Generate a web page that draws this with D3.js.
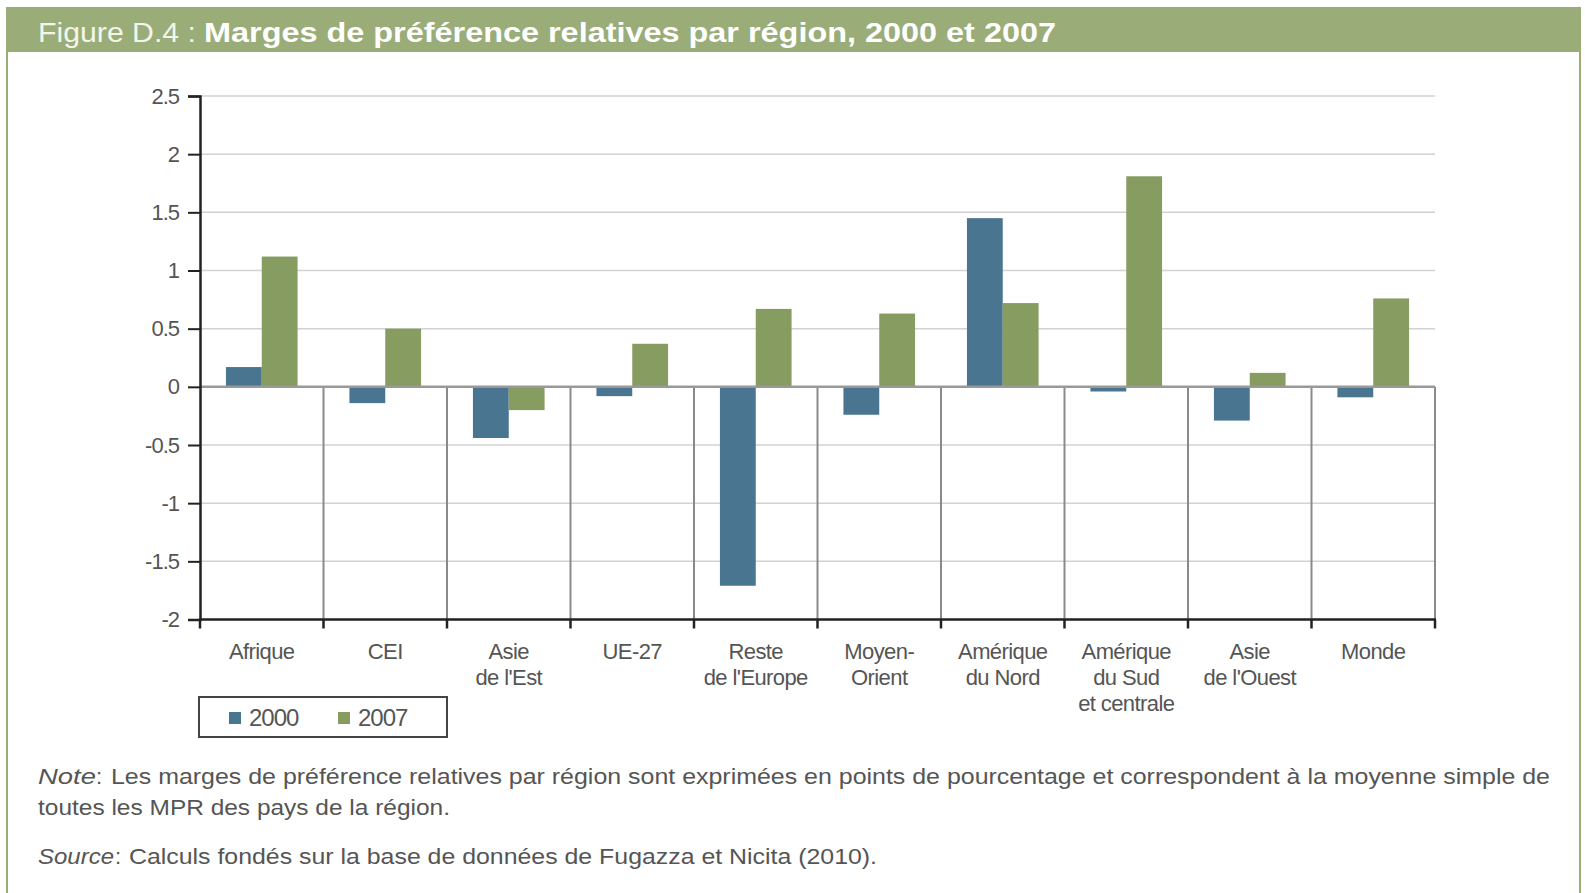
<!DOCTYPE html>
<html>
<head>
<meta charset="utf-8">
<script src="https://cdn.jsdelivr.net/npm/d3@7"></script>
<style>
  html, body { margin: 0; padding: 0; background: #ffffff; }
  svg { display: block; }
  text { font-family: "Liberation Sans", Arial, sans-serif; }
</style>
</head>
<body>
<svg id="chart" width="1585" height="893"></svg>
<script>
// ---- Data ----
const categories = ["Afrique", "CEI", "Asie\nde l'Est", "UE-27", "Reste\nde l'Europe", "Moyen-\nOrient",
  "Amérique\ndu Nord", "Amérique\ndu Sud\net centrale", "Asie\nde l'Ouest", "Monde"];
const seriesNames = ["2000", "2007"];
const values2000 = [0.17, -0.14, -0.44, -0.08, -1.71, -0.24, 1.45, -0.04, -0.29, -0.09];
const values2007 = [1.12, 0.50, -0.20, 0.37, 0.67, 0.63, 0.72, 1.81, 0.12, 0.76];
const yTicks = [2.5, 2, 1.5, 1, 0.5, 0, -0.5, -1, -1.5, -2];
const titlePrefix = "Figure D.4 :";
const titleMain = "Marges de préférence relatives par région, 2000 et 2007";
const noteLine1 = "Les marges de préférence relatives par région sont exprimées en points de pourcentage et correspondent à la moyenne simple de";
const noteLine2 = "toutes les MPR des pays de la région.";
const sourceText = "Calculs fondés sur la base de données de Fugazza et Nicita (2010).";

const colors = { "2000": "#4a7590", "2007": "#879c60" };
const frameGreen = "#9aad78";

const svg = d3.select("#chart");

// Frame and title bar
svg.append("rect").attr("x", 7).attr("y", 8).attr("width", 1573).attr("height", 900)
  .attr("fill", "none").attr("stroke", frameGreen).attr("stroke-width", 2);
svg.append("rect").attr("x", 6).attr("y", 7).attr("width", 1575).attr("height", 45)
  .attr("fill", frameGreen);
svg.append("text").attr("x", 38).attr("y", 42)
  .attr("font-size", 27).attr("font-weight", 300).attr("fill", "#f2f6ea")
  .attr("textLength", 158).attr("lengthAdjust", "spacingAndGlyphs")
  .text(titlePrefix);
svg.append("text").attr("x", 204).attr("y", 42)
  .attr("font-size", 28).attr("font-weight", "bold").attr("fill", "#ffffff")
  .attr("textLength", 852).attr("lengthAdjust", "spacingAndGlyphs")
  .text(titleMain);

// Scales
const x0 = d3.scaleBand().domain(categories).range([200, 1435]).paddingInner(0).paddingOuter(0);
const bw = x0.bandwidth();
const x1 = d3.scaleBand().domain(seriesNames).range([bw * 0.21, bw * 0.79]).padding(0);
const y = d3.scaleLinear().domain([-2, 2.5]).range([619.5, 96]);

// Gridlines
svg.append("g").selectAll("line").data(yTicks.filter(d => d !== 0)).join("line")
  .attr("x1", 200).attr("x2", 1435)
  .attr("y1", d => y(d)).attr("y2", d => y(d))
  .attr("stroke", "#d2d2d2").attr("stroke-width", 1.5);

// Vertical separators below zero
const boundaries = categories.map(c => x0(c) + bw).slice(0, -1).concat([1435]);
svg.append("g").selectAll("line").data(boundaries).join("line")
  .attr("x1", d => d).attr("x2", d => d)
  .attr("y1", y(0)).attr("y2", y(-2))
  .attr("stroke", "#8a8a8a").attr("stroke-width", 2);

// Bars
const series = [
  { name: "2000", values: values2000 },
  { name: "2007", values: values2007 }
];
const gBars = svg.append("g");
series.forEach(s => {
  gBars.selectAll(null).data(s.values).join("rect")
    .attr("x", (d, i) => x0(categories[i]) + x1(s.name))
    .attr("width", x1.bandwidth())
    .attr("y", d => y(Math.max(0, d)))
    .attr("height", d => Math.abs(y(d) - y(0)))
    .attr("fill", colors[s.name]);
});

// Zero line
svg.append("line").attr("x1", 200).attr("x2", 1435).attr("y1", y(0)).attr("y2", y(0))
  .attr("stroke", "#999999").attr("stroke-width", 2.5);

// Y axis
const yAxis = d3.axisLeft(y).tickValues(yTicks).tickSize(12).tickPadding(9)
  .tickFormat(d => String(d));
const gy = svg.append("g").attr("transform", "translate(200,0)").call(yAxis);
gy.select(".domain").attr("stroke", "#222").attr("stroke-width", 2.5);
gy.selectAll(".tick line").attr("stroke", "#222").attr("stroke-width", 2);
gy.selectAll(".tick text").attr("font-size", 22).attr("fill", "#555").attr("letter-spacing", -1)
  .attr("font-family", "'Liberation Sans', Arial, sans-serif");

// Bottom axis at -2
svg.append("line").attr("x1", 199).attr("x2", 1436).attr("y1", y(-2)).attr("y2", y(-2))
  .attr("stroke", "#222").attr("stroke-width", 2.5);
const bottomTicks = [200].concat(boundaries);
svg.append("g").selectAll("line").data(bottomTicks).join("line")
  .attr("x1", d => d).attr("x2", d => d)
  .attr("y1", y(-2)).attr("y2", y(-2) + 9)
  .attr("stroke", "#222").attr("stroke-width", 2.5);

// Category labels
const gLab = svg.append("g");
categories.forEach(c => {
  const t = gLab.append("text")
    .attr("x", x0(c) + bw / 2).attr("y", 659)
    .attr("text-anchor", "middle").attr("font-size", 22).attr("fill", "#555")
    .attr("letter-spacing", -0.6);
  c.split("\n").forEach((line, i) => {
    t.append("tspan").attr("x", x0(c) + bw / 2).attr("dy", i === 0 ? 0 : 26).text(line);
  });
});

// Legend
const lg = svg.append("g");
lg.append("rect").attr("x", 199).attr("y", 697).attr("width", 248).attr("height", 40)
  .attr("fill", "#fff").attr("stroke", "#444").attr("stroke-width", 2);
const legendItems = [
  { name: "2000", sx: 229, tx: 249 },
  { name: "2007", sx: 338, tx: 358 }
];
legendItems.forEach(it => {
  lg.append("rect").attr("x", it.sx).attr("y", 712).attr("width", 12).attr("height", 12)
    .attr("fill", colors[it.name]);
  lg.append("text").attr("x", it.tx).attr("y", 726).attr("font-size", 24)
    .attr("fill", "#555").attr("letter-spacing", -1).text(it.name);
});

// Notes
const nFont = 22;
const noteG = svg.append("g");
noteG.append("text").attr("x", 38).attr("y", 784).attr("font-size", nFont)
  .attr("font-style", "italic").attr("fill", "#555")
  .attr("textLength", 58).attr("lengthAdjust", "spacingAndGlyphs").text("Note");
noteG.append("text").attr("x", 96).attr("y", 784).attr("font-size", nFont).attr("fill", "#555").text(":");
noteG.append("text").attr("x", 111).attr("y", 784).attr("font-size", nFont).attr("fill", "#555")
  .attr("textLength", 1439).attr("lengthAdjust", "spacingAndGlyphs").text(noteLine1);
noteG.append("text").attr("x", 38).attr("y", 815).attr("font-size", nFont).attr("fill", "#555")
  .attr("textLength", 412).attr("lengthAdjust", "spacingAndGlyphs").text(noteLine2);
noteG.append("text").attr("x", 38).attr("y", 864).attr("font-size", nFont)
  .attr("font-style", "italic").attr("fill", "#555")
  .attr("textLength", 76).attr("lengthAdjust", "spacingAndGlyphs").text("Source");
noteG.append("text").attr("x", 115).attr("y", 864).attr("font-size", nFont).attr("fill", "#555").text(":");
noteG.append("text").attr("x", 129).attr("y", 864).attr("font-size", nFont).attr("fill", "#555")
  .attr("textLength", 748).attr("lengthAdjust", "spacingAndGlyphs").text(sourceText);
</script>
</body>
</html>
